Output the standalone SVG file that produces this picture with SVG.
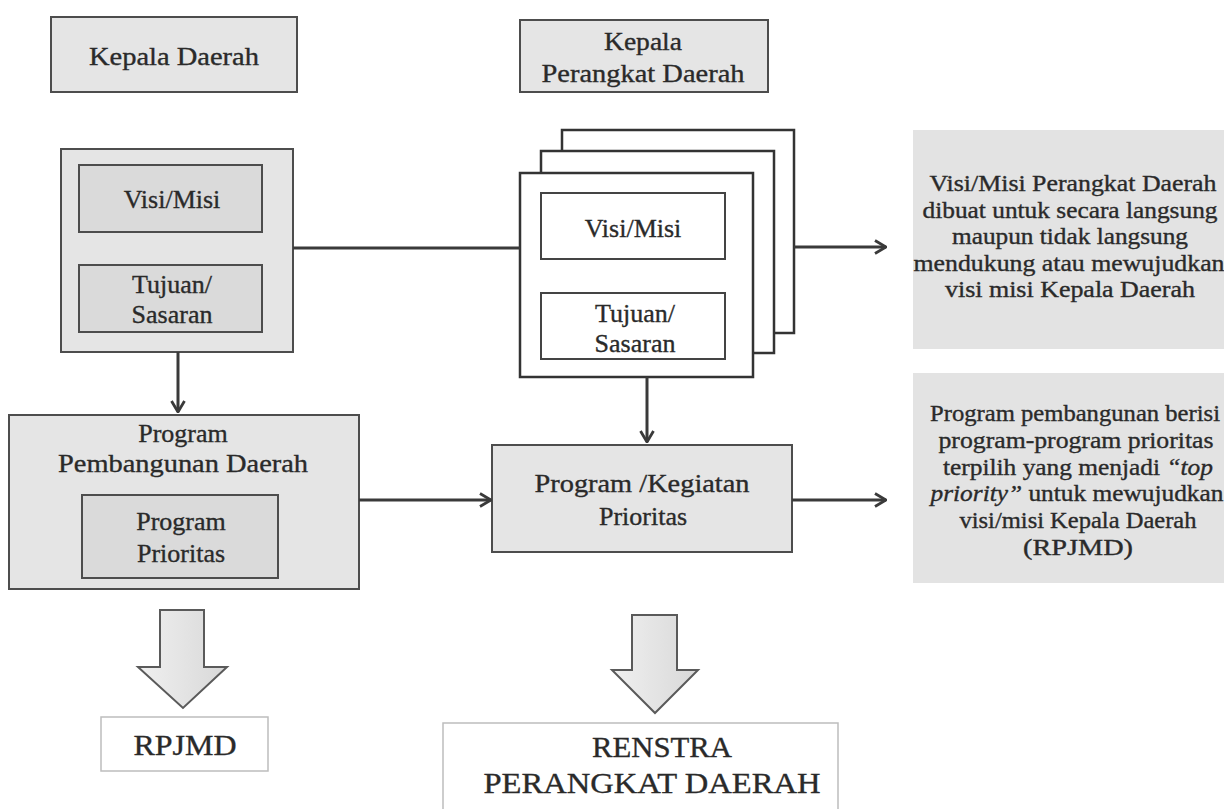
<svg xmlns="http://www.w3.org/2000/svg" width="1224" height="809" viewBox="0 0 1224 809" font-family="'Liberation Serif', 'DejaVu Serif', serif">
<style>
  text { font-family: 'Liberation Serif', 'DejaVu Serif', serif; fill: #2a2a2a; stroke: #2a2a2a; stroke-width: 0.35; text-anchor: middle; }
  .t26 { font-size: 26px; }
  .t23 { font-size: 22.5px; }
  .t30 { font-size: 30px; }
  .box { fill: #e5e5e5; stroke: #4d4d4d; stroke-width: 2; }
  .inner { fill: #dadada; stroke: #4d4d4d; stroke-width: 2; }
  .sheet { fill: #ffffff; stroke: #333; stroke-width: 2.5; }
  .wbox { fill: #ffffff; stroke: #444; stroke-width: 2; }
  .note { fill: #e3e3e3; }
  .out { fill: #ffffff; stroke: #bdbdbd; stroke-width: 1.5; }
  .big { fill: url(#bg); stroke: #5a5a5a; stroke-width: 2; }
  .conn { fill: none; stroke: #3a3a3a; stroke-width: 3; }
</style>
<defs>
  <marker id="ah" viewBox="0 0 14 16" refX="13" refY="8" markerWidth="14" markerHeight="16" markerUnits="userSpaceOnUse" orient="auto">
    <path d="M2,1.5 L13,8 L2,14.5" fill="none" stroke="#3a3a3a" stroke-width="2.8" stroke-linejoin="miter"/>
  </marker>
  <linearGradient id="bg" x1="0" y1="0" x2="1" y2="0">
    <stop offset="0" stop-color="#f0f0f0"/>
    <stop offset="1" stop-color="#d8d8d8"/>
  </linearGradient>
</defs>
<rect width="1224" height="809" fill="#ffffff"/>

<g id="kepala-daerah">
  <rect class="box" x="51" y="17" width="246" height="75"/>
  <text class="t26" x="174" y="65" textLength="170" lengthAdjust="spacingAndGlyphs">Kepala Daerah</text>
</g>

<g id="kepala-perangkat-daerah">
  <rect class="box" x="520" y="20" width="248" height="72"/>
  <text class="t26" x="643" y="50" textLength="78" lengthAdjust="spacingAndGlyphs">Kepala</text>
  <text class="t26" x="643" y="82" textLength="203" lengthAdjust="spacingAndGlyphs">Perangkat Daerah</text>
</g>

<g id="kd-visi-tujuan">
  <rect class="box" x="61" y="149" width="232" height="203"/>
  <rect class="inner" x="79" y="165" width="183" height="67"/>
  <text class="t26" x="172" y="208">Visi/Misi</text>
  <rect class="inner" x="79" y="265" width="183" height="67"/>
  <text class="t26" x="172" y="293">Tujuan/</text>
  <text class="t26" x="172" y="323">Sasaran</text>
</g>

<g id="pd-visi-tujuan">
  <rect class="sheet" x="562" y="130" width="232" height="203"/>
  <rect class="sheet" x="541" y="151" width="233" height="202"/>
  <rect class="sheet" x="520" y="173" width="233" height="204"/>
  <rect class="wbox" x="541" y="193" width="184" height="66"/>
  <text class="t26" x="633" y="237">Visi/Misi</text>
  <rect class="wbox" x="541" y="293" width="184" height="66"/>
  <text class="t26" x="635" y="322">Tujuan/</text>
  <text class="t26" x="635" y="352">Sasaran</text>
</g>

<g id="program-pembangunan-daerah">
  <rect class="box" x="9" y="415" width="350" height="174"/>
  <text class="t26" x="183" y="442">Program</text>
  <text class="t26" x="183" y="472" textLength="250" lengthAdjust="spacingAndGlyphs">Pembangunan Daerah</text>
  <rect class="inner" x="82" y="495" width="196" height="83"/>
  <text class="t26" x="181" y="530">Program</text>
  <text class="t26" x="181" y="562">Prioritas</text>
</g>

<g id="program-kegiatan-prioritas">
  <rect class="box" x="492" y="445" width="300" height="107"/>
  <text class="t26" x="642" y="492" textLength="215" lengthAdjust="spacingAndGlyphs">Program /Kegiatan</text>
  <text class="t26" x="643" y="525">Prioritas</text>
</g>

<g id="note-visi">
  <rect class="note" x="913" y="130" width="311" height="219"/>
  <text class="t23" x="1073" y="191" textLength="287" lengthAdjust="spacingAndGlyphs">Visi/Misi Perangkat Daerah</text>
  <text class="t23" x="1070" y="217.5" textLength="295" lengthAdjust="spacingAndGlyphs">dibuat untuk secara langsung</text>
  <text class="t23" x="1070" y="244" textLength="236" lengthAdjust="spacingAndGlyphs">maupun tidak langsung</text>
  <text class="t23" x="1069" y="270.5" textLength="311" lengthAdjust="spacingAndGlyphs">mendukung atau mewujudkan</text>
  <text class="t23" x="1070" y="297" textLength="250" lengthAdjust="spacingAndGlyphs">visi misi Kepala Daerah</text>
</g>

<g id="note-program">
  <rect class="note" x="913" y="373" width="311" height="210"/>
  <text class="t23" x="1075" y="421" textLength="290" lengthAdjust="spacingAndGlyphs">Program pembangunan berisi</text>
  <text class="t23" x="1076" y="448" textLength="275" lengthAdjust="spacingAndGlyphs">program-program prioritas</text>
  <text class="t23" x="1078" y="475" textLength="270" lengthAdjust="spacingAndGlyphs">terpilih yang menjadi <tspan font-style="italic">“top</tspan></text>
  <text class="t23" x="1077" y="501" textLength="293" lengthAdjust="spacingAndGlyphs"><tspan font-style="italic">priority”</tspan> untuk mewujudkan</text>
  <text class="t23" x="1078" y="528" textLength="237" lengthAdjust="spacingAndGlyphs">visi/misi Kepala Daerah</text>
  <text class="t23" x="1078" y="555" textLength="110" lengthAdjust="spacingAndGlyphs">(RPJMD)</text>
</g>

<g id="arrow-rpjmd">
  <path class="big" d="M160,610 H204 V667 H227 L183,708 L138,667 H160 Z"/>
</g>
<g id="rpjmd">
  <rect class="out" x="101" y="717" width="167" height="54"/>
  <text class="t30" x="185" y="755" textLength="103" lengthAdjust="spacingAndGlyphs">RPJMD</text>
</g>

<g id="arrow-renstra">
  <path class="big" d="M632,615 H677 V670 H698 L655,713 L612,670 H632 Z"/>
</g>
<g id="renstra">
  <rect class="out" x="443" y="723" width="395" height="95"/>
  <text class="t30" x="662" y="757" textLength="140" lengthAdjust="spacingAndGlyphs">RENSTRA</text>
  <text class="t30" x="652" y="793" textLength="337" lengthAdjust="spacingAndGlyphs">PERANGKAT DAERAH</text>
</g>

<g id="connectors">
  <line class="conn" x1="293" y1="248" x2="520" y2="248"/>
  <line class="conn" x1="794" y1="247" x2="886" y2="247" marker-end="url(#ah)"/>
  <line class="conn" x1="178" y1="352" x2="178" y2="412" marker-end="url(#ah)"/>
  <line class="conn" x1="647" y1="377" x2="647" y2="442" marker-end="url(#ah)"/>
  <line class="conn" x1="359" y1="500" x2="491" y2="500" marker-end="url(#ah)"/>
  <line class="conn" x1="792" y1="500" x2="886" y2="500" marker-end="url(#ah)"/>
</g>
</svg>
